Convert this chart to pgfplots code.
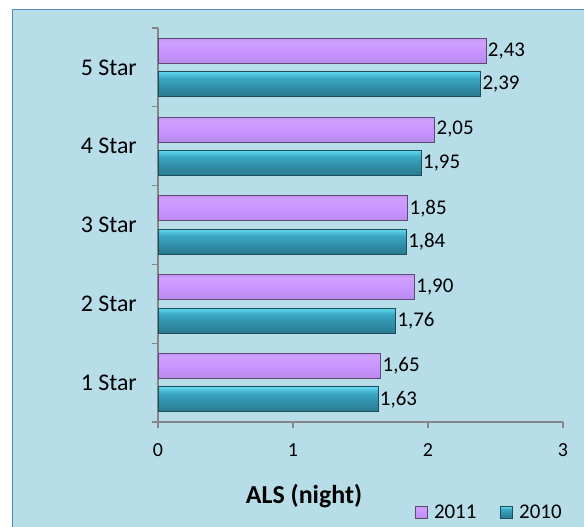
\documentclass[border=0pt]{standalone}
\usepackage{fontspec}
\setmainfont{Carlito}
\usepackage{pgfplots}
\pgfplotsset{compat=1.18}
\definecolor{bg}{HTML}{B7DDE8}
\definecolor{frameblue}{HTML}{5B87C3}
\definecolor{axisgray}{HTML}{868686}
\definecolor{pedge}{HTML}{5E4A70}
\definecolor{tedge}{HTML}{1E4D5A}
\definecolor{pa}{HTML}{8C6EA6}
\definecolor{pb}{HTML}{B48AE6}
\definecolor{pc}{HTML}{C792FF}
\definecolor{pd}{HTML}{CFA0FF}
\definecolor{pe}{HTML}{B68AE4}
\definecolor{pf}{HTML}{8D6DA4}
\definecolor{ta}{HTML}{266A7C}
\definecolor{tb}{HTML}{2E8AA3}
\definecolor{tc}{HTML}{3AA6C2}
\definecolor{td}{HTML}{6AE4FC}
\definecolor{te}{HTML}{4CC6E2}
\definecolor{tf}{HTML}{2C7A8E}
\pgfdeclareverticalshading{purplebar}{100bp}{color(0bp)=(pedge); color(8bp)=(pa); color(22bp)=(pb); color(45bp)=(pc); color(68bp)=(pd); color(84bp)=(pe); color(93bp)=(pf); color(100bp)=(pedge)}
\pgfdeclareverticalshading{tealbar}{100bp}{color(0bp)=(tedge); color(8bp)=(ta); color(40bp)=(tb); color(62bp)=(tc); color(78bp)=(td); color(88bp)=(te); color(95bp)=(tf); color(100bp)=(tedge)}
\tikzset{
  pstyle/.style={shade, shading=purplebar, draw=pedge, line width=0.8bp, bar shift=0.212},
  tstyle/.style={shade, shading=tealbar, draw=tedge, line width=0.8bp, bar shift=-0.212},
}
\begin{document}
\begin{tikzpicture}
\useasboundingbox (0,0) rectangle (584bp,527bp);
\fill[white] (0,0) rectangle (584bp,527bp);
\draw[frameblue, line width=1.6bp, fill=bg] (12.5bp,-10bp) rectangle (600bp,517.5bp);
\begin{axis}[
  at={(158bp,105bp)}, anchor=south west,
  scale only axis, width=405bp, height=394bp,
  xmin=0, xmax=3, ymin=0.5, ymax=5.5,
  enlargelimits=false, clip=false,
  xbar, bar width=0.315,
  axis lines*=left,
  axis line style={axisgray, line width=1.3bp},
  tick align=outside, major tick length=6bp,
  tick style={axisgray, line width=1.3bp},
  xtick={0,1,2,3}, xticklabels={0,1,2,3},
  xticklabel style={font=\fontsize{20}{24}\selectfont, inner sep=0pt, anchor=north, yshift=-15bp},
  ytick={0.5,1.5,2.5,3.5,4.5,5.5}, yticklabels={},
  extra y ticks={1,2,3,4,5},
  extra y tick labels={1 Star,2 Star,3 Star,4 Star,5 Star},
  extra y tick style={tick style={draw=none}},
  yticklabel style={font=\fontsize{24}{28}\selectfont, inner sep=0pt, anchor=east, xshift=-15bp},
  xlabel={ALS (night)},
  xlabel style={font=\bfseries\fontsize{26}{30}\selectfont, at={(axis description cs:0.3605,-0.2056)}, anchor=base, inner sep=0pt},
  point meta=x,
  nodes near coords={\pgfmathprintnumber[assume math mode=true, use comma, fixed, fixed zerofill, precision=2]{\pgfplotspointmeta}},
  nodes near coords style={font=\fontsize{21}{25}\selectfont, anchor=west, inner sep=1.5bp, text=black},
  legend style={at={(1.002,-0.2297)}, anchor=east, draw=none, fill=none, inner sep=0pt,
    font=\fontsize{21}{25}\selectfont, legend cell align=left,
    /tikz/every odd column/.append style={column sep=4bp},
    /tikz/every even column/.append style={column sep=22bp}},
  legend columns=2,
  legend image code/.code={\draw[#1] (0bp,-6bp) rectangle (12bp,6bp);},
]
\addplot[pstyle] coordinates {(1.65,1)};
\addplot[pstyle, forget plot] coordinates {(1.90,2)};
\addplot[pstyle, forget plot] coordinates {(1.85,3)};
\addplot[pstyle, forget plot] coordinates {(2.05,4)};
\addplot[pstyle, forget plot] coordinates {(2.43,5)};
\addplot[tstyle] coordinates {(1.63,1)};
\addplot[tstyle, forget plot] coordinates {(1.76,2)};
\addplot[tstyle, forget plot] coordinates {(1.84,3)};
\addplot[tstyle, forget plot] coordinates {(1.95,4)};
\addplot[tstyle, forget plot] coordinates {(2.39,5)};
\legend{2011,2010}
\end{axis}
\end{tikzpicture}
\end{document}
